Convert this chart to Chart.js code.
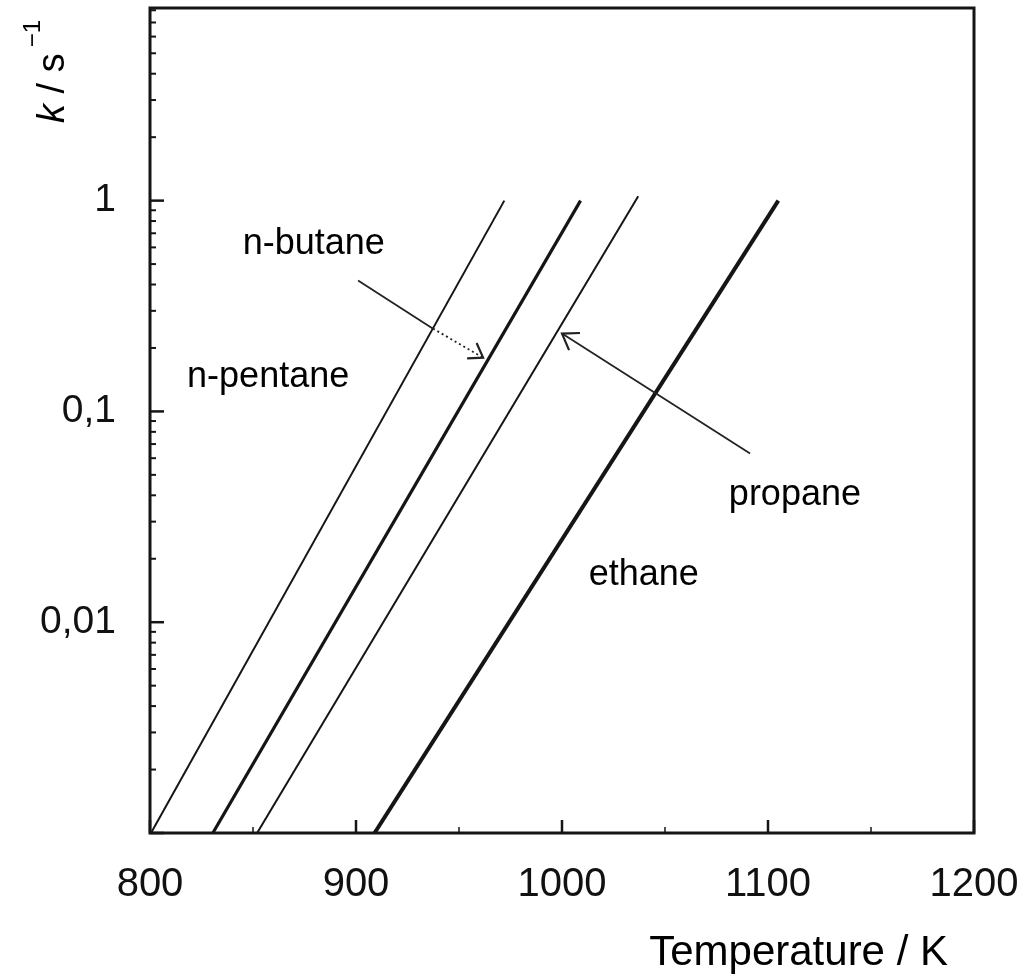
<!DOCTYPE html>
<html>
<head>
<meta charset="utf-8">
<script src="https://cdn.jsdelivr.net/npm/chart.js@4"></script>
<style>
html,body{margin:0;padding:0;background:#fff;}
#wrap{width:1027px;height:979px;position:relative;}
</style>
</head>
<body>
<div id="wrap"><canvas id="c" width="1027" height="979"></canvas></div>
<script>
// ---- data ----
const seriesNames = ["n-pentane", "n-butane", "propane", "ethane"];
const nPentane = [{x: 800.5, y: 0.001}, {x: 972, y: 1.0}];
const nButane  = [{x: 830.5, y: 0.001}, {x: 1009, y: 1.0}];
const propane  = [{x: 852, y: 0.001}, {x: 1037, y: 1.05}];
const ethane   = [{x: 909, y: 0.001}, {x: 1105, y: 1.0}];
const lineWidths = [2, 3.2, 2, 4];

const xTickValues = [800, 900, 1000, 1100, 1200];
const xTickLabels = ["800", "900", "1000", "1100", "1200"];
const xMinorTicks = [850, 950, 1050, 1150];
const yTickValues = [0.001, 0.01, 0.1, 1];
const yTickLabels = ["", "0,01", "0,1", "1"];
const yMinorTicks = [];
[0.001, 0.01, 0.1, 1].forEach(d => { for (let m = 2; m <= 9; m++) { const v = d * m; if (v <= 8.2) yMinorTicks.push(v); } });

// annotation labels: [text, T (left edge), k (baseline)]
const labelTexts = ["n-butane", "n-pentane", "propane", "ethane"];
const labelT = [845, 818, 1081, 1013];
const labelK = [0.561, 0.130, 0.0358, 0.0150];
// arrows (data coords): start -> end
const butaneArrow = [{x: 901, y: 0.418}, {x: 937.4, y: 0.247}, {x: 961.7, y: 0.180}];
const propaneArrow = [{x: 1091.3, y: 0.0632}, {x: 1000, y: 0.234}];

const INK = '#151515';
const FONT = '"Liberation Sans", Arial, sans-serif';

const decor = {
  id: 'decor',
  afterDraw(chart) {
    const ctx = chart.ctx, a = chart.chartArea;
    const xs = chart.scales.x, ys = chart.scales.y;
    ctx.save();
    // frame
    ctx.strokeStyle = INK; ctx.lineWidth = 3;
    ctx.strokeRect(a.left, a.top, a.right - a.left, a.bottom - a.top);
    // inward ticks
    ctx.lineWidth = 2.5;
    xTickValues.forEach(v => { const p = xs.getPixelForValue(v); ctx.beginPath(); ctx.moveTo(p, a.bottom); ctx.lineTo(p, a.bottom - 13); ctx.stroke(); });
    ctx.lineWidth = 1.5;
    xMinorTicks.forEach(v => { const p = xs.getPixelForValue(v); ctx.beginPath(); ctx.moveTo(p, a.bottom); ctx.lineTo(p, a.bottom - 6); ctx.stroke(); });
    ctx.lineWidth = 2.5;
    yTickValues.forEach(v => { const p = ys.getPixelForValue(v); ctx.beginPath(); ctx.moveTo(a.left, p); ctx.lineTo(a.left + 14, p); ctx.stroke(); });
    ctx.lineWidth = 2;
    yMinorTicks.forEach(v => { const p = ys.getPixelForValue(v); ctx.beginPath(); ctx.moveTo(a.left, p); ctx.lineTo(a.left + 6, p); ctx.stroke(); });

    // annotation labels
    ctx.fillStyle = '#000';
    ctx.font = '36px ' + FONT;
    ctx.textAlign = 'left'; ctx.textBaseline = 'alphabetic';
    labelTexts.forEach((t, i) => ctx.fillText(t, xs.getPixelForValue(labelT[i]), ys.getPixelForValue(labelK[i])));

    // arrows
    const px = p => [xs.getPixelForValue(p.x), ys.getPixelForValue(p.y)];
    function head(from, to, len) {
      const ang = Math.atan2(to[1] - from[1], to[0] - from[0]);
      ctx.beginPath();
      ctx.moveTo(to[0] - len * Math.cos(ang - 0.6), to[1] - len * Math.sin(ang - 0.6));
      ctx.lineTo(to[0], to[1]);
      ctx.lineTo(to[0] - len * Math.cos(ang + 0.6), to[1] - len * Math.sin(ang + 0.6));
      ctx.stroke();
    }
    ctx.strokeStyle = '#222';
    ctx.lineWidth = 1.8;
    const b0 = px(butaneArrow[0]), b1 = px(butaneArrow[1]), b2 = px(butaneArrow[2]);
    ctx.beginPath(); ctx.moveTo(b0[0], b0[1]); ctx.lineTo(b1[0], b1[1]); ctx.stroke();
    ctx.setLineDash([2, 3]);
    ctx.beginPath(); ctx.moveTo(b1[0], b1[1]); ctx.lineTo(b2[0], b2[1]); ctx.stroke();
    ctx.setLineDash([]);
    ctx.lineWidth = 2.2;
    head(b0, b2, 16);
    ctx.lineWidth = 1.8;
    const p0 = px(propaneArrow[0]), p1 = px(propaneArrow[1]);
    ctx.beginPath(); ctx.moveTo(p0[0], p0[1]); ctx.lineTo(p1[0], p1[1]); ctx.stroke();
    ctx.lineWidth = 2.2;
    head(p0, p1, 18);

    // y axis title: k / s^-1 (rotated)
    ctx.save();
    ctx.translate(64, 123);
    ctx.rotate(-Math.PI / 2);
    ctx.fillStyle = '#000';
    ctx.textAlign = 'left'; ctx.textBaseline = 'alphabetic';
    let x = 0;
    ctx.font = 'italic 38px ' + FONT;
    ctx.fillText('k', x, 0); x += ctx.measureText('k').width;
    ctx.font = '38px ' + FONT;
    ctx.fillText(' / s', x, 0); x += ctx.measureText(' / s').width + 6;
    ctx.font = '24px ' + FONT;
    ctx.fillText('\u22121', x, -24);
    ctx.restore();

    // x axis title
    ctx.font = '42px ' + FONT;
    ctx.textAlign = 'right';
    ctx.fillText('Temperature / K', 948, 965);
    ctx.restore();
  }
};

const mk = (name, data, w) => ({
  label: name, data, showLine: true, borderColor: INK, backgroundColor: INK,
  borderWidth: w, pointRadius: 0, fill: false, tension: 0
});

const noPad = s => { s.paddingLeft = 0; s.paddingRight = 0; s.paddingTop = 0; s.paddingBottom = 0; };

new Chart(document.getElementById('c'), {
  type: 'scatter',
  data: {
    datasets: [
      mk(seriesNames[0], nPentane, lineWidths[0]),
      mk(seriesNames[1], nButane, lineWidths[1]),
      mk(seriesNames[2], propane, lineWidths[2]),
      mk(seriesNames[3], ethane, lineWidths[3])
    ]
  },
  options: {
    responsive: false,
    animation: false,
    events: [],
    layout: { padding: { top: 8, right: 53, left: 0, bottom: 0 } },
    plugins: { legend: { display: false }, tooltip: { enabled: false } },
    scales: {
      x: {
        type: 'linear', min: 800, max: 1200,
        grid: { display: false, drawTicks: false },
        border: { display: false },
        afterFit: s => { s.height = 146; noPad(s); },
        afterBuildTicks: s => { s.ticks = xTickValues.map(v => ({ value: v })); },
        ticks: {
          padding: 28, color: '#111', font: { size: 40, family: FONT },
          maxRotation: 0, autoSkip: false,
          callback: v => { const i = xTickValues.indexOf(v); return i >= 0 ? xTickLabels[i] : ''; }
        }
      },
      y: {
        type: 'logarithmic', min: 0.001, max: 8.2,
        grid: { display: false, drawTicks: false },
        border: { display: false },
        afterFit: s => { s.width = 150; noPad(s); },
        afterBuildTicks: s => { s.ticks = yTickValues.map(v => ({ value: v })); },
        ticks: {
          padding: 34, color: '#111', font: { size: 39, family: FONT }, autoSkip: false,
          callback: v => { const i = yTickValues.findIndex(t => Math.abs(t - v) / t < 1e-6); return i >= 0 ? yTickLabels[i] : ''; }
        }
      }
    }
  },
  plugins: [decor]
});
</script>
</body>
</html>
